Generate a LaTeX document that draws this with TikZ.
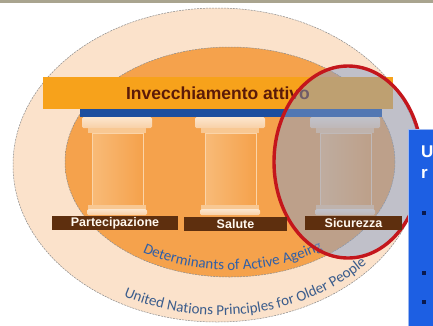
\documentclass[tikz,border=0pt]{standalone}
\usepackage{fontspec}
\setmainfont{Liberation Sans}
\newfontfamily\arcfont{Carlito}
\usetikzlibrary{calc,decorations.text}

\definecolor{peachmid}{HTML}{FBE2CB}
\definecolor{peachrim}{HTML}{FFFAF6}
\definecolor{orangemid}{HTML}{F5A24C}
\definecolor{orangerim}{HTML}{FBDCC0}
\definecolor{ringgrey}{HTML}{8C8C8C}
\definecolor{barorange}{HTML}{F7A21B}
\definecolor{bartext}{HTML}{5B1A08}
\definecolor{beamblue}{HTML}{1D4E9E}
\definecolor{capcream}{HTML}{FCE6CE}
\definecolor{capdeep}{HTML}{F8D0A6}
\definecolor{neckpeach}{HTML}{F8C893}
\definecolor{shaftlight}{HTML}{F8BB78}
\definecolor{shaftdark}{HTML}{F5A14B}
\definecolor{shaftedge}{HTML}{FBD4A8}
\definecolor{labbrown}{HTML}{5E2F0E}
\definecolor{labtext}{HTML}{FFF8EE}
\definecolor{detblue}{HTML}{2F5FA8}
\definecolor{unblue}{HTML}{3A5C8C}
\definecolor{focusred}{HTML}{C4161C}
\definecolor{focusslate}{HTML}{87A0C8}
\definecolor{boxblue}{HTML}{1D5FE3}
\definecolor{boxedge}{HTML}{9DB8F0}
\definecolor{bulletnavy}{HTML}{0A1A50}
\definecolor{topgrey}{HTML}{A9A48F}

\pgfdeclareradialshading{outerglow}{\pgfpoint{0bp}{0bp}}{color(0bp)=(peachmid); color(35bp)=(peachmid); color(50bp)=(peachrim)}
\pgfdeclareradialshading{innerglow}{\pgfpoint{0bp}{0bp}}{color(0bp)=(orangemid); color(34bp)=(orangemid); color(50bp)=(orangerim)}

\begin{document}
\begin{tikzpicture}[x=1pt,y=1pt,
    ring/.style={draw=ringgrey,dash pattern=on 2pt off 1pt,line width=0.5pt},
    pillarcap/.style={top color=capcream,bottom color=capdeep,rounded corners=1.5pt},
    pillarneck/.style={fill=neckpeach},
    pillarshaft/.style={left color=shaftlight,right color=shaftdark,draw=shaftedge,line width=0.5pt},
    pillarlabel/.style={fill=labbrown,text=labtext,inner sep=0pt,minimum height=14pt,
        font=\bfseries\fontsize{12.5}{14}\selectfont}]

    \clip (0,0) rectangle (433,-325);
    \fill[white] (0,0) rectangle (433,-325);

    % rings: principles outside, determinants inside
    \shadedraw[shading=outerglow,ring] (217,-165) ellipse [x radius=204,y radius=157];
    \shadedraw[shading=innerglow,ring] (230,-162) ellipse [x radius=165,y radius=115];

    \path[decorate,decoration={text along path,text align=center,
        text={|\arcfont\fontsize{15}{15}\selectfont\color{unblue}|United Nations Principles for Older People}}]
        ($(219,-165)+(207:196 and 150)$) arc [start angle=207,end angle=356,x radius=196,y radius=150];
    \path[decorate,decoration={text along path,text align=center,
        text={|\arcfont\fontsize{15}{15}\selectfont\color{detblue}|Determinants of Active Ageing}}]
        ($(230,-162)+(203:158 and 108)$) arc [start angle=203,end angle=340,x radius=158,y radius=108];

    % roof and beam
    \node[fill=barorange,minimum width=350pt,minimum height=32pt,inner sep=0pt,text=bartext,
        font=\bfseries\fontsize{17.5}{20}\selectfont] (bar) at (218,-93) {Invecchiamento attivo};
    \fill[beamblue] (80,-109) rectangle (382,-117);

    % the three pillars
    \foreach \px in {82,195,310}{
        \shade[pillarcap] (\px,-117) rectangle ++(70,-11);
        \fill[pillarneck] (\px+6,-128) rectangle ++(58,-5);
        \shadedraw[pillarshaft] (\px+10,-133) rectangle ++(51,-72);
        \fill[pillarneck] (\px+6,-205) rectangle ++(58,-4);
        \shade[pillarcap] (\px+5,-209) rectangle ++(60,-6);
    }

    % highlight on the third pillar
    \draw[draw=focusred,line width=3.4pt,fill=focusslate,fill opacity=0.5] (348,-162) ellipse [x radius=74,y radius=96];

    \node[pillarlabel,minimum width=126pt] (part) at (115,-223) {Partecipazione};
    \node[pillarlabel,minimum width=103pt] (sal) at (235.5,-224) {Salute};
    \node[pillarlabel,minimum width=97pt] (sic) at (353.5,-223) {Sicurezza};

    % side panel
    \draw[fill=boxblue,draw=boxedge,line width=1pt] (408,-129) rectangle (440,-330);
    \node[anchor=base west,text=white,inner sep=0pt,font=\bfseries\fontsize{17}{20}\selectfont] (head1) at (421,-157) {U};
    \node[anchor=base west,text=white,inner sep=0pt,font=\bfseries\fontsize{17}{20}\selectfont] (head2) at (421,-178) {r};
    \foreach \by in {213,273,302}
        \fill[bulletnavy] (422,-\by+2) rectangle ++(4,-4);

    \fill[topgrey] (0,0) rectangle (433,-2.5);
\end{tikzpicture}
\end{document}
